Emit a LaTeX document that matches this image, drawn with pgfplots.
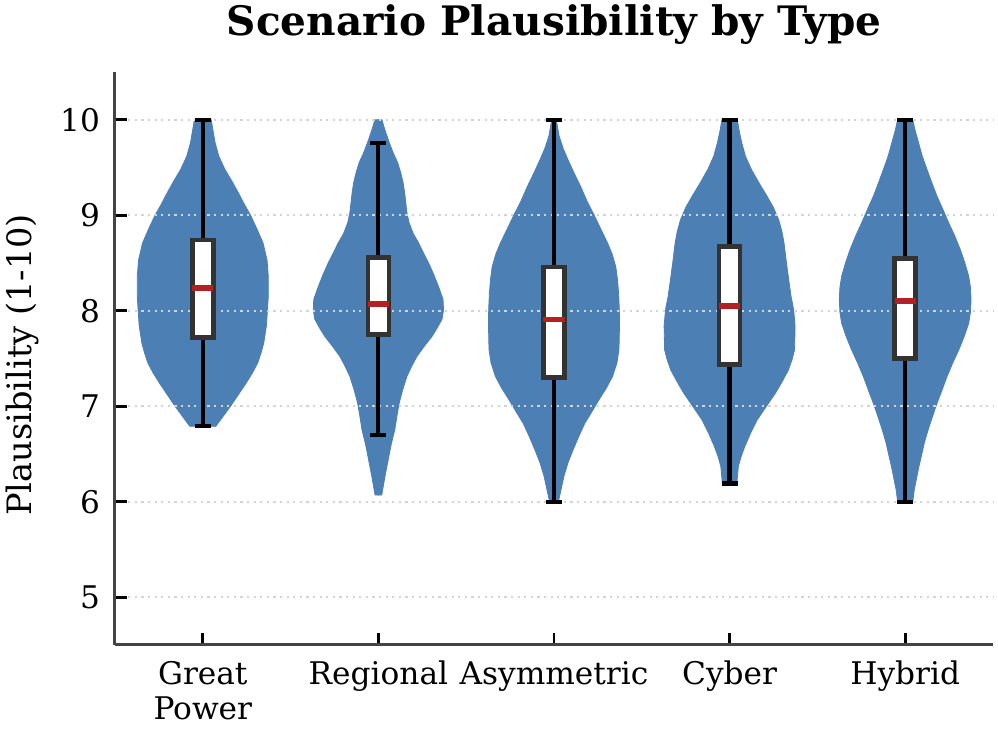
\documentclass[border=0pt]{standalone}
\usepackage{fontspec}
\setmainfont{DejaVu Serif}
\usepackage{pgfplots}
\usepackage{pgfplotstable}
\pgfplotsset{compat=1.18}
\usepgfplotslibrary{statistics}

\definecolor{violinblue}{RGB}{76,128,180}
\definecolor{boxgray}{RGB}{51,51,51}
\definecolor{medred}{RGB}{178,34,34}
\definecolor{spine}{RGB}{68,68,68}
\definecolor{gridgray}{RGB}{212,212,212}

% half-width profiles of the violins (y, half width in category units)
\pgfplotstableread{
y w
6.79 0
6.79 0.074
6.89 0.114
7.00 0.158
7.12 0.202
7.24 0.246
7.35 0.283
7.45 0.312
7.56 0.332
7.66 0.347
7.84 0.362
8.00 0.368
8.15 0.373
8.36 0.373
8.53 0.366
8.71 0.343
8.85 0.310
9.00 0.272
9.11 0.238
9.23 0.204
9.35 0.168
9.48 0.126
9.62 0.091
9.76 0.070
9.90 0.057
10.0 0.048
10.0 0
}\greatpower

\pgfplotstableread{
y w
6.07 0
6.07 0.019
6.27 0.038
6.47 0.059
6.61 0.074
6.75 0.093
6.89 0.105
7.03 0.118
7.17 0.138
7.31 0.162
7.42 0.190
7.52 0.219
7.63 0.262
7.73 0.305
7.82 0.335
7.91 0.362
8.01 0.371
8.12 0.368
8.25 0.343
8.38 0.315
8.50 0.286
8.60 0.258
8.71 0.229
8.81 0.198
8.92 0.175
9.02 0.163
9.13 0.156
9.23 0.150
9.34 0.141
9.44 0.128
9.55 0.110
9.65 0.085
9.76 0.062
9.90 0.036
10.0 0.020
10.0 0
}\regional

\pgfplotstableread{
y w
6.00 0
6.00 0.025
6.27 0.057
6.41 0.080
6.54 0.108
6.68 0.140
6.82 0.175
6.94 0.215
7.07 0.257
7.19 0.298
7.31 0.333
7.45 0.358
7.59 0.370
7.84 0.373
8.01 0.372
8.18 0.368
8.32 0.362
8.46 0.352
8.59 0.332
8.71 0.305
8.85 0.268
9.00 0.229
9.14 0.190
9.30 0.152
9.44 0.115
9.58 0.080
9.70 0.052
9.83 0.029
10.0 0.013
10.0 0
}\asymmetric

\pgfplotstableread{
y w
6.19 0
6.19 0.041
6.37 0.050
6.47 0.065
6.58 0.087
6.72 0.120
6.86 0.158
7.00 0.210
7.14 0.262
7.26 0.300
7.38 0.335
7.49 0.356
7.59 0.370
7.84 0.373
8.01 0.365
8.15 0.350
8.32 0.337
8.50 0.324
8.71 0.310
8.83 0.298
8.95 0.280
9.08 0.250
9.20 0.213
9.34 0.167
9.48 0.124
9.62 0.090
9.76 0.069
9.90 0.053
10.0 0.044
10.0 0
}\cyber

\pgfplotstableread{
y w
6.00 0
6.00 0.043
6.13 0.052
6.23 0.063
6.35 0.076
6.47 0.091
6.61 0.108
6.75 0.130
6.89 0.155
7.03 0.181
7.17 0.210
7.31 0.238
7.45 0.270
7.59 0.305
7.73 0.336
7.87 0.362
7.99 0.372
8.12 0.375
8.24 0.372
8.36 0.362
8.50 0.340
8.64 0.314
8.78 0.283
8.92 0.248
9.06 0.215
9.20 0.181
9.34 0.152
9.48 0.124
9.62 0.097
9.76 0.076
9.90 0.055
10.0 0.043
10.0 0
}\hybrid

\newcommand{\violin}[2]{%
  \addplot[on layer=axis background, fill=violinblue, draw=violinblue, line width=0.4pt]
    table[x expr=#1+\thisrow{w}, y=y] {#2} -- cycle;
  \addplot[on layer=axis background, fill=violinblue, draw=violinblue, line width=0.4pt]
    table[x expr=#1-\thisrow{w}, y=y] {#2} -- cycle;
}

\begin{document}
\begin{tikzpicture}
\begin{axis}[
    at={(0,0)}, anchor=south west,
    set layers,
    scale only axis,
    width=439pt, height=286.5pt,
    xmin=-0.5, xmax=4.5,
    ymin=4.5, ymax=10.5,
    xtick={0,1,2,3,4},
    xticklabels={{Great\\Power},Regional,Asymmetric,Cyber,Hybrid},
    ytick={5,6,7,8,9,10},
    axis lines=left,
    axis line style={-, spine, line width=1.5pt},
    tick align=inside,
    major tick length=6pt,
    tick style={black, line width=1.4pt},
    ymajorgrids,
    major grid style={gridgray, line width=1.1pt, dash pattern=on 1.1pt off 2.2pt},
    /pgf/number format/assume math mode=true,
    ticklabel style={font=\fontsize{15.6}{17.5}\selectfont},
    xticklabel style={align=center, yshift=-4.5pt},
    yticklabel style={xshift=-4pt},
    ylabel={Plausibility (1-10)},
    ylabel style={font=\fontsize{16.8}{20}\selectfont, at={(axis description cs:-0.1054,0.489)}, anchor=center},
    title={\bfseries Scenario Plausibility by Type},
    title style={font=\fontsize{20.3}{24}\selectfont, at={(axis description cs:0.5,1)}, anchor=center, yshift=17.5pt},
    boxplot/draw direction=y,
    boxplot/box extend=0.12,
    boxplot/whisker extend=0.092,
    boxplot/every box/.style={draw=boxgray, fill=white, line width=2.3pt},
    boxplot/every whisker/.style={draw=black, line width=2.1pt},
    boxplot/every median/.style={draw=medred, line width=2.8pt},
]
\violin{0}{\greatpower}
\violin{1}{\regional}
\violin{2}{\asymmetric}
\violin{3}{\cyber}
\violin{4}{\hybrid}

\addplot[boxplot prepared={draw position=0, lower whisker=6.79, lower quartile=7.72,
    median=8.24, upper quartile=8.74, upper whisker=10}] coordinates {};
\addplot[boxplot prepared={draw position=1, lower whisker=6.70, lower quartile=7.75,
    median=8.07, upper quartile=8.56, upper whisker=9.76}] coordinates {};
\addplot[boxplot prepared={draw position=2, lower whisker=6.00, lower quartile=7.30,
    median=7.91, upper quartile=8.46, upper whisker=10}] coordinates {};
\addplot[boxplot prepared={draw position=3, lower whisker=6.19, lower quartile=7.44,
    median=8.05, upper quartile=8.67, upper whisker=10}] coordinates {};
\addplot[boxplot prepared={draw position=4, lower whisker=6.00, lower quartile=7.50,
    median=8.10, upper quartile=8.55, upper whisker=10}] coordinates {};
\end{axis}
\pgfresetboundingbox
\path[use as bounding box] (-57.5pt,-44pt) rectangle (441.5pt,322.5pt);
\end{tikzpicture}
\end{document}
